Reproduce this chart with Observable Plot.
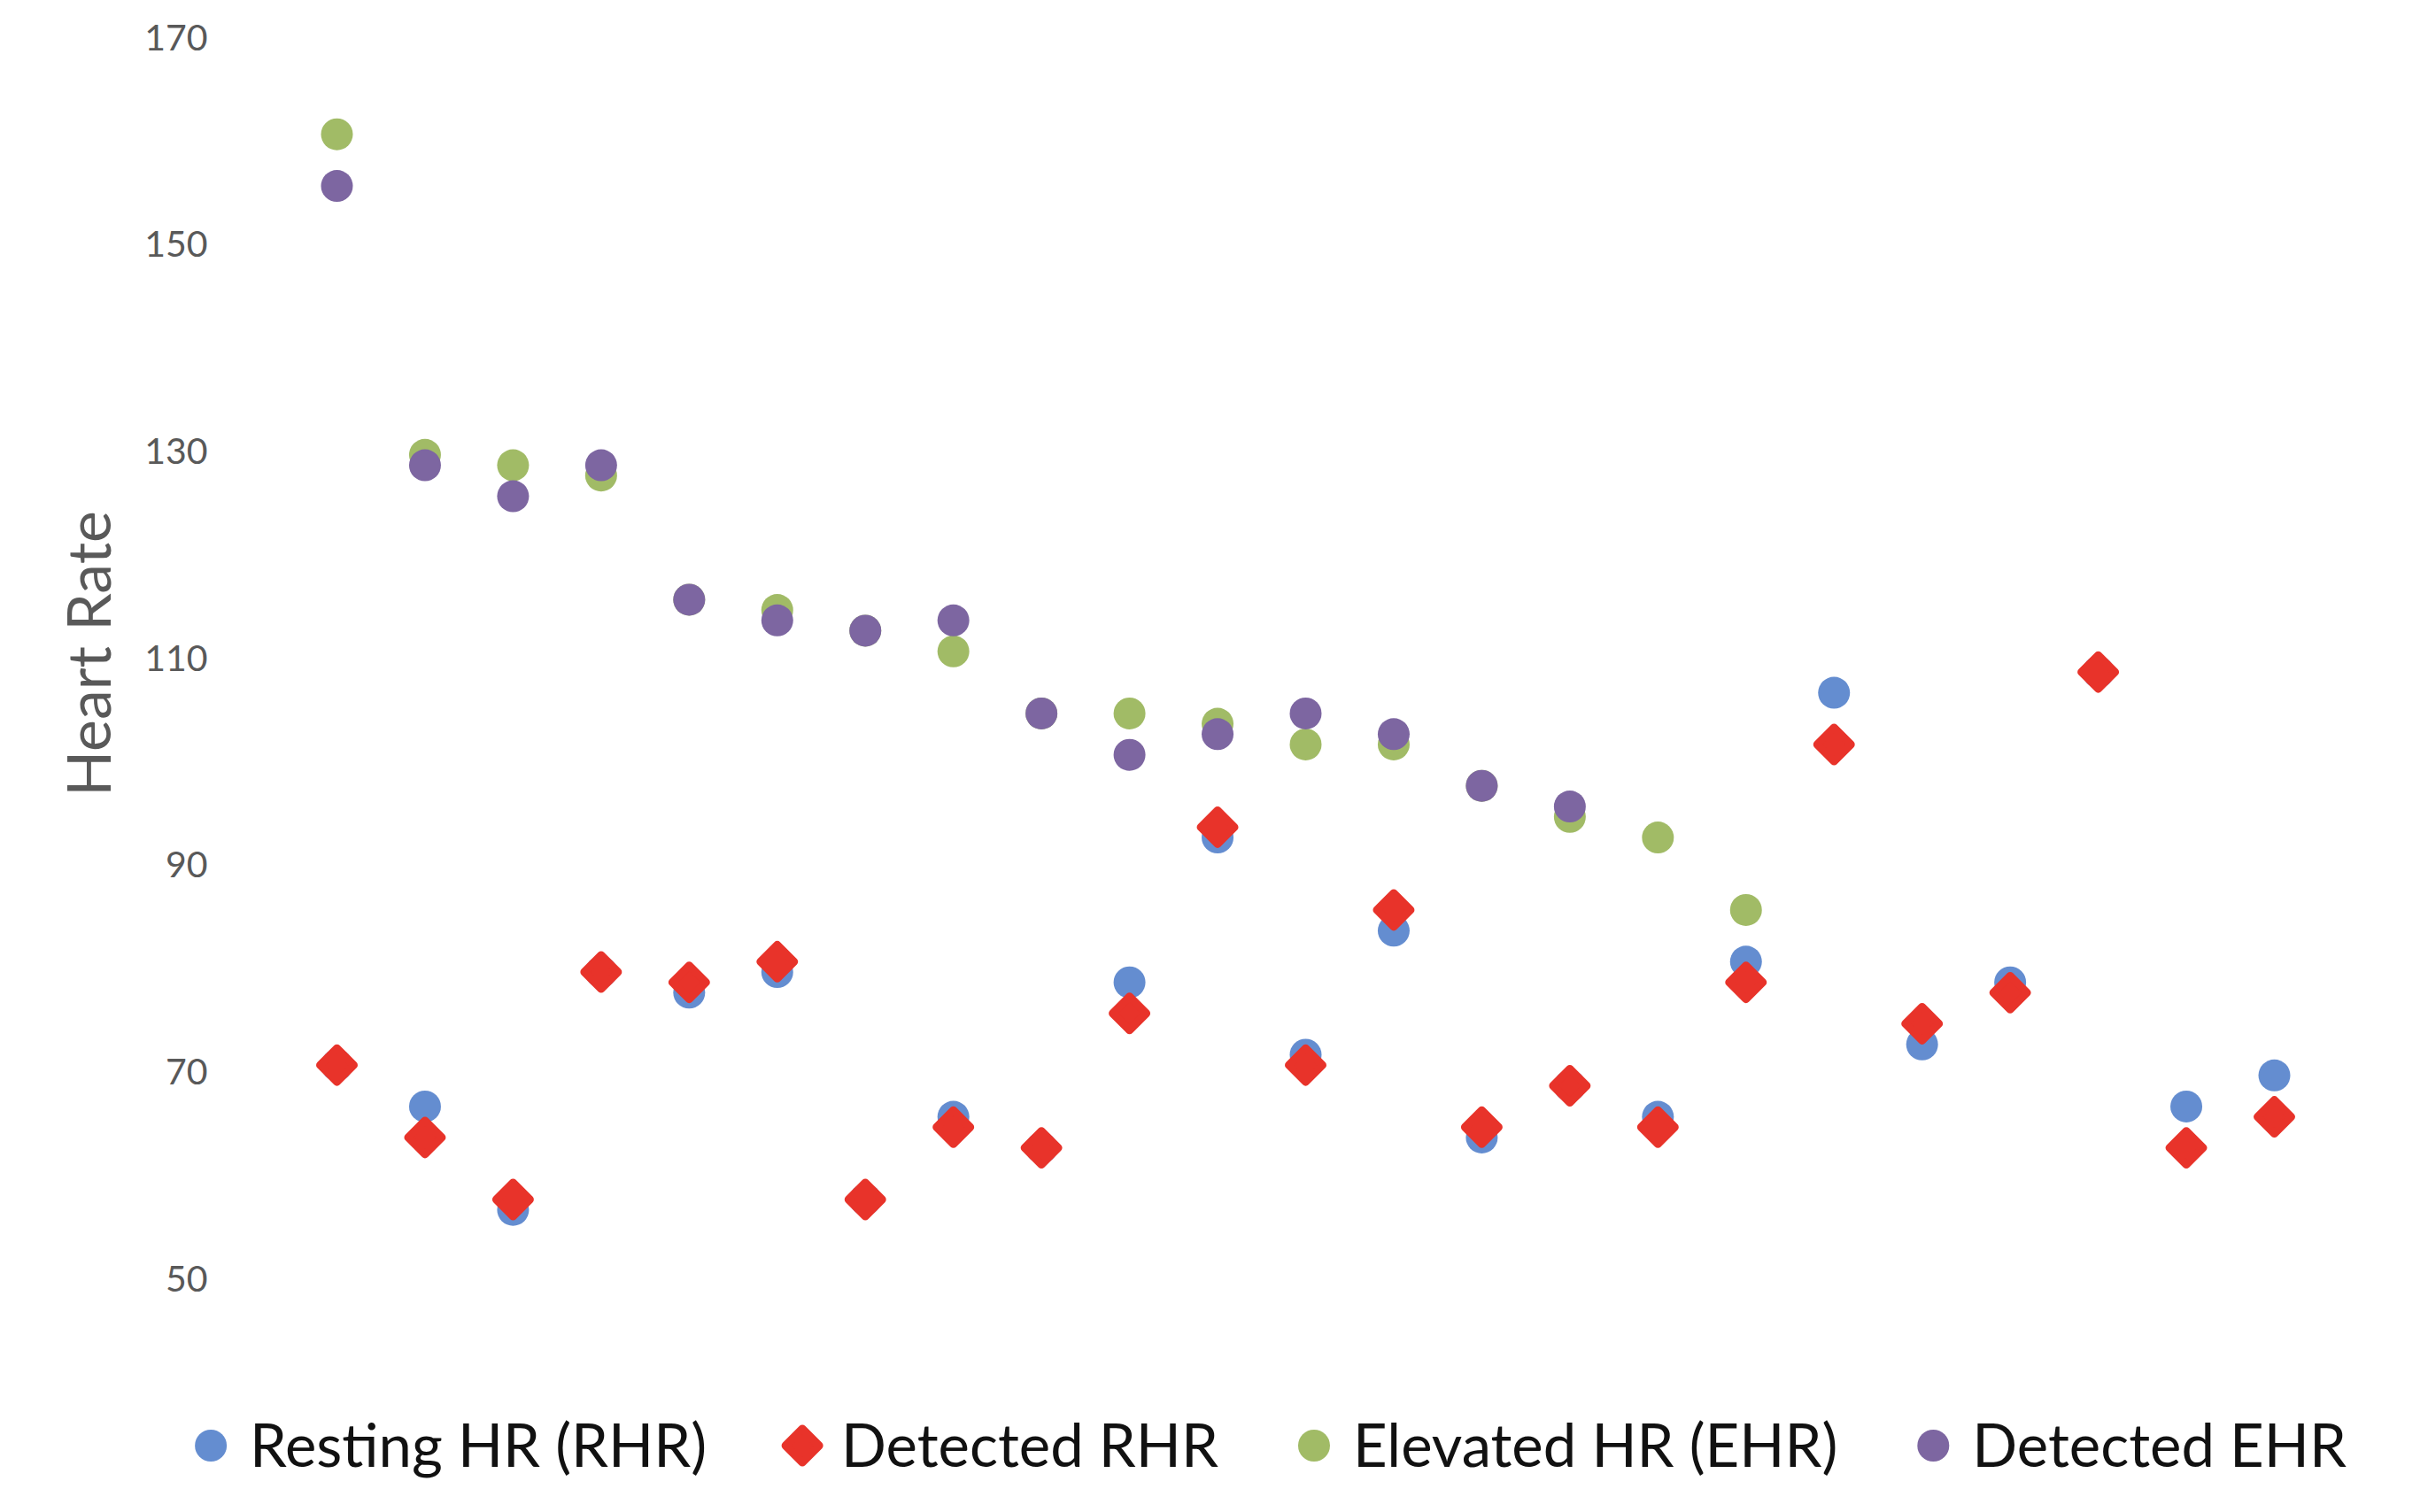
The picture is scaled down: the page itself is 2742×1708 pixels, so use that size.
<!DOCTYPE html>
<html>
<head>
<meta charset="utf-8">
<script src="https://cdn.jsdelivr.net/npm/d3@7"></script>
<script src="https://cdn.jsdelivr.net/npm/@observablehq/plot@0.6"></script>
<style>
  html, body { margin: 0; padding: 0; background: #fff; }
  #chart { width: 2742px; height: 1708px; overflow: hidden; background: #fff; font-family: Lato, sans-serif; }
  #chart svg { display: block; }
</style>
</head>
<body>
<div id="chart"></div>
<script>
// ---- data ----
const subjects = [1, 2, 3, 4, 5, 6, 7, 8, 9, 10, 11, 12, 13, 14, 15, 16, 17, 18, 19, 20, 21, 22, 23];
const restingHR   = [71, 67, 57, 80, 78, 80, 58, 66, 63, 79, 93, 72, 84, 64, 69, 66, 81, 107, 73, 79, 109, 67, 70];
const detectedRHR = [71, 64, 58, 80, 79, 81, 58, 65, 63, 76, 94, 71, 86, 65, 69, 65, 79, 102, 75, 78, 109, 63, 66];
const elevatedHR  = [161, 130, 129, 128, 116, 115, 113, 111, 105, 105, 104, 102, 102, 98, 95, 93, 86, null, null, null, null, null, null];
const detectedEHR = [156, 129, 126, 129, 116, 114, 113, 114, 105, 101, 103, 105, 103, 98, 96, null, null, null, null, null, null, null, null];
const seriesNames = ["Resting HR (RHR)", "Detected RHR", "Elevated HR (EHR)", "Detected EHR"];
const seriesColors = ["#648dd0", "#e8332a", "#a1bb66", "#7d66a1"];
const seriesSymbols = ["circle", "diamond2", "circle", "circle"];
const yTicks = [50, 70, 90, 110, 130, 150, 170];
const yLabel = "Heart Rate";

const valuesBySeries = [restingHR, detectedRHR, elevatedHR, detectedEHR];
const rows = [];
seriesNames.forEach((name, s) => {
  valuesBySeries[s].forEach((v, i) => {
    if (v != null) rows.push({subject: subjects[i], series: name, value: v});
  });
});

// circle radius 18; diamond drawn slightly smaller with a thick round-joined outline (rounded corners)
const symbolStyle = {
  circle: {r: 18, stroke: "none"},
  diamond2: {r: 17.1, strokeWidth: 9, strokeLinejoin: "round"}
};

const chart = Plot.plot({
  width: 2742,
  height: 1580,
  marginTop: 46,
  marginBottom: 132,
  marginLeft: 330,
  marginRight: 125,
  style: {fontFamily: "Lato, sans-serif", background: "#fff", overflow: "visible"},
  x: {type: "linear", domain: [1, 23], range: [380, 2568], axis: null},
  y: {domain: [50, 170], range: [1448, 46], label: null},
  marks: [
    ...seriesNames.map((name, s) => {
      const st = symbolStyle[seriesSymbols[s]];
      return Plot.dot(rows.filter(d => d.series === name), {
        x: "subject", y: "value",
        symbol: seriesSymbols[s],
        fill: seriesColors[s],
        ...st,
        stroke: st.stroke === "none" ? "none" : seriesColors[s]
      });
    }),
    Plot.axisY({ticks: yTicks, tickSize: 0, tickPadding: 96, fontSize: 41, fill: "#595959", dy: -3, label: null}),
    Plot.text([yLabel], {text: d => d, frameAnchor: "left", textAnchor: "middle", rotate: -90, lineAnchor: "top",
      dx: -254, dy: -9, fontSize: 68, fill: "#595959"})
  ]
});

const container = document.getElementById("chart");
container.appendChild(chart);

// ---- legend below the plot ----
const legendFont = 67;
const legend = d3.create("svg").attr("width", 2742).attr("height", 128)
  .style("font-family", "Lato, sans-serif");
container.appendChild(legend.node());
const lg = legend.append("g");
const items = seriesNames.map((name, s) => {
  const item = lg.append("g");
  if (seriesSymbols[s] === "circle") {
    item.append("circle").attr("cx", 0).attr("cy", 53).attr("r", 18).attr("fill", seriesColors[s]);
  } else {
    item.append("path").attr("d", "M0,34L19,53L0,72L-19,53Z")
      .attr("fill", seriesColors[s]).attr("stroke", seriesColors[s])
      .attr("stroke-width", 9).attr("stroke-linejoin", "round");
  }
  const t = item.append("text").attr("x", 44).attr("y", 77)
    .attr("font-size", legendFont).attr("fill", "#111").text(name);
  return {item, w: t.node().getComputedTextLength()};
});
let cx = 0;
items.forEach(({item, w}) => {
  item.attr("transform", `translate(${cx},0)`);
  cx += 44 + w + 108;
});
const total = cx - 108 + 18; // from first marker left edge (-18) to last text end
const left = 1435 - total / 2 + 18;
lg.attr("transform", `translate(${left},0)`);
</script>
</body>
</html>
